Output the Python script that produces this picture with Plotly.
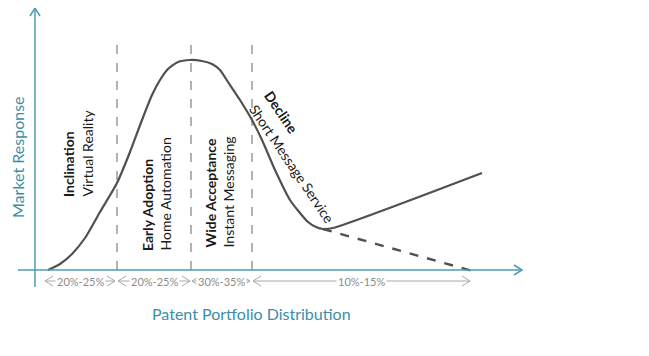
import plotly.graph_objects as go

# ---- data (x: distance along portfolio axis, y: market response) ----
curve_x = [13, 25, 37, 50, 65, 82, 95, 107, 117, 125, 133, 143, 155, 167, 177, 185, 193, 205, 217, 227, 240, 255, 265, 273, 281, 288, 298, 447]
curve_y = [0, 6, 16, 32, 58, 87, 118, 150, 175, 190, 201, 208, 210, 209, 206, 200, 188, 170, 150, 130, 100, 70, 57, 48, 43, 41, 42, 97]
decline_x = [288, 441]
decline_y = [41, -2]

phase_x = [82, 156, 217]
phase_top = 228

span_start = [10, 83, 157, 218]
span_end = [80, 155, 215, 435]
span_labels = ["20%-25%", "20%-25%", "30%-35%", "10%-15%"]

phase_titles = ["Inclination", "Early Adoption", "Wide Acceptance"]
phase_examples = ["Virtual Reality", "Home Automation", "Instant Messaging"]
phase_title_x = [33, 112, 175]
phase_example_x = [52, 130, 193]
phase_base_y = [71, 17, 20]

decline_title = "Decline"
decline_example = "Short Message Service"

x_axis_end = 487
y_axis_end = 262
axis_overhang = 17

AXIS = "#4A9DB5"
TXT = "#3A8EA8"
FONT = "Lato"

fig = go.Figure()

# dashed phase separators
for px in phase_x:
    fig.add_trace(go.Scatter(x=[px, px], y=[0, phase_top], mode="lines",
                             line=dict(color="#8a8a8a", width=1.3, dash="dash"),
                             hoverinfo="skip", showlegend=False))

fig.add_trace(go.Scatter(x=curve_x, y=curve_y, mode="lines", line_shape="spline",
                         line=dict(color="#505050", width=2.2, smoothing=0.6),
                         hoverinfo="skip", showlegend=False))
fig.add_trace(go.Scatter(x=decline_x, y=decline_y, mode="lines",
                         line=dict(color="#505050", width=2.4, dash="dash"),
                         hoverinfo="skip", showlegend=False))

shapes = []
# axes
shapes.append(dict(type="line", x0=0, x1=0, y0=-axis_overhang, y1=y_axis_end,
                   line=dict(color=AXIS, width=1.5)))
shapes.append(dict(type="line", x0=-axis_overhang, x1=x_axis_end, y0=0, y1=0,
                   line=dict(color=AXIS, width=1.5)))
# chevrons
shapes.append(dict(type="path", path=f"M -5 {y_axis_end-8} L 0 {y_axis_end} L 5 {y_axis_end-8}",
                   line=dict(color=AXIS, width=1.5)))
shapes.append(dict(type="path", path=f"M {x_axis_end-8} 5 L {x_axis_end} 0 L {x_axis_end-8} -5",
                   line=dict(color=AXIS, width=1.5)))

# span arrows
SPAN_Y = -11
GRAY = "#a8a8a8"
annotations = []
for s, e, lab in zip(span_start, span_end, span_labels):
    shapes.append(dict(type="line", x0=s, x1=e, y0=SPAN_Y, y1=SPAN_Y, line=dict(color=GRAY, width=1)))
    shapes.append(dict(type="path", path=f"M {s+8} {SPAN_Y+5} L {s} {SPAN_Y} L {s+8} {SPAN_Y-5}",
                       line=dict(color=GRAY, width=1)))
    shapes.append(dict(type="path", path=f"M {e-8} {SPAN_Y+5} L {e} {SPAN_Y} L {e-8} {SPAN_Y-5}",
                       line=dict(color=GRAY, width=1)))
    annotations.append(dict(x=(s + e) / 2, y=SPAN_Y, text=lab, showarrow=False,
                            bgcolor="white", borderpad=1,
                            font=dict(family=FONT, size=11, color="#8c8c8c")))

# rotated phase labels
for t, ex, tx, exx, by in zip(phase_titles, phase_examples, phase_title_x, phase_example_x, phase_base_y):
    annotations.append(dict(x=tx, y=by, text=f"<b>{t}</b>", textangle=-90, showarrow=False,
                            xanchor="center", yanchor="bottom",
                            font=dict(family=FONT, size=14, color="#1a1a1a")))
    annotations.append(dict(x=exx, y=by, text=ex, textangle=-90, showarrow=False,
                            xanchor="center", yanchor="bottom",
                            font=dict(family=FONT, size=14, color="#1a1a1a")))

annotations.append(dict(x=247, y=158, text=f"<b>{decline_title}</b>", textangle=56, showarrow=False,
                        font=dict(family=FONT, size=14, color="#1a1a1a")))
annotations.append(dict(x=257, y=107, text=decline_example, textangle=56, showarrow=False,
                        font=dict(family=FONT, size=14, color="#1a1a1a")))

# axis titles
annotations.append(dict(x=216, y=-43, text="Patent Portfolio Distribution", showarrow=False,
                        font=dict(family=FONT, size=16, color=TXT)))
annotations.append(dict(x=-18, y=113, text="Market Response", textangle=-90, showarrow=False,
                        font=dict(family=FONT, size=16, color=TXT)))

fig.update_layout(
    width=649, height=356,
    margin=dict(l=0, r=0, t=0, b=0),
    paper_bgcolor="white", plot_bgcolor="white",
    xaxis=dict(range=[-27, 622], visible=False, fixedrange=True),
    yaxis=dict(range=[-94, 262], visible=False, fixedrange=True),
    shapes=shapes, annotations=annotations, showlegend=False,
)

fig.write_html("out.html")
